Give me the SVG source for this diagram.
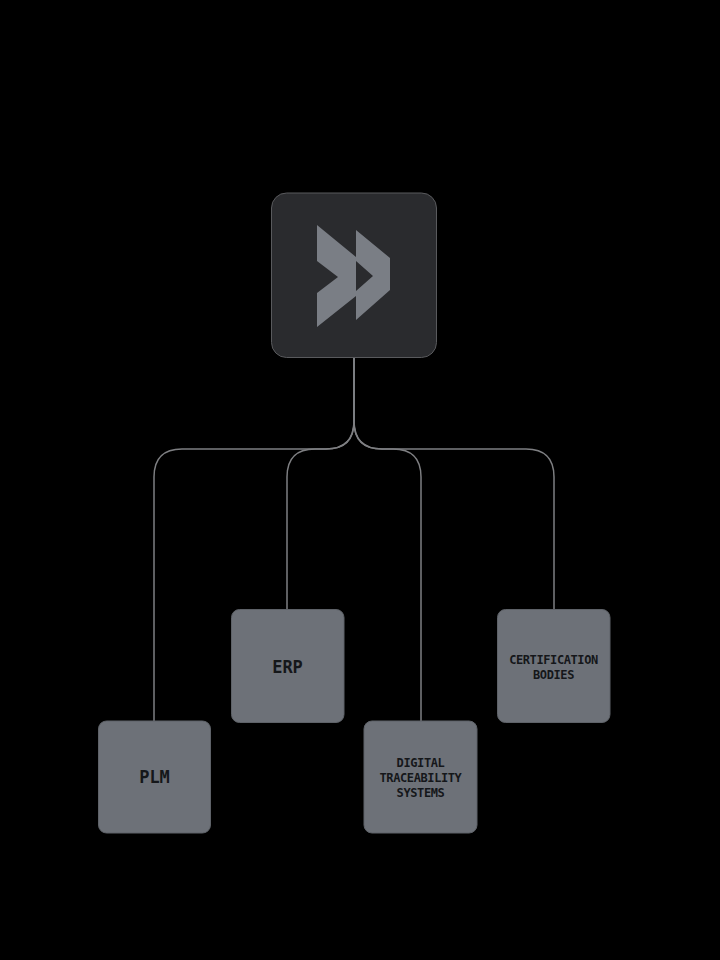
<svg xmlns="http://www.w3.org/2000/svg" width="720" height="960" viewBox="0 0 720 960">
<style>
.conn{fill:none;stroke:#7e7f82;stroke-width:1.5}
.box{fill:#6d7178;stroke:#5e6268;stroke-width:1}
.lbl{font-family:"DejaVu Sans Mono","Liberation Mono",monospace;font-weight:bold;fill:#15171a;text-anchor:middle}
.sm{font-size:12px;letter-spacing:-0.4px}
.lg{font-size:17px}
.ico{fill:#7a7e85}
</style>
<rect x="0" y="0" width="720" height="960" fill="#000"/>
<g id="connectors">
<path class="conn" d="M354,357 V421 Q354,449 326,449 H182 Q154,449 154,477 V721"/>
<path class="conn" d="M354,357 V421 Q354,449 326,449 H315 Q287,449 287,477 V609"/>
<path class="conn" d="M354,357 V421 Q354,449 382,449 H393 Q421,449 421,477 V721"/>
<path class="conn" d="M354,357 V421 Q354,449 382,449 H526 Q554,449 554,477 V609"/>
</g>
<g id="hub">
<rect x="271.5" y="193" width="165" height="164.5" rx="15" fill="#2a2b2e" stroke="#595a5d" stroke-width="1"/>
<polygon class="ico" points="317,225 356,257 356,296 317,327 317,293 338,277 317,261"/>
<polygon class="ico" points="356,230 390,258 390,290 356,320 356,291 373,276 356,261"/>
</g>
<g id="plm">
<rect class="box" x="98.5" y="721" width="112" height="112" rx="8"/>
<text class="lbl lg" x="154.5" y="783">PLM</text>
</g>
<g id="erp">
<rect class="box" x="231.5" y="609.5" width="112.5" height="113" rx="8"/>
<text class="lbl lg" x="287.5" y="673">ERP</text>
</g>
<g id="dts">
<rect class="box" x="364" y="721" width="113" height="112" rx="8"/>
<text class="lbl sm" x="420.5" y="766.5">DIGITAL</text>
<text class="lbl sm" x="420.5" y="781.5">TRACEABILITY</text>
<text class="lbl sm" x="420.5" y="796.5">SYSTEMS</text>
</g>
<g id="cert">
<rect class="box" x="497.5" y="609.5" width="112.5" height="113" rx="8"/>
<text class="lbl sm" x="553.5" y="664">CERTIFICATION</text>
<text class="lbl sm" x="553.5" y="679">BODIES</text>
</g>
</svg>
